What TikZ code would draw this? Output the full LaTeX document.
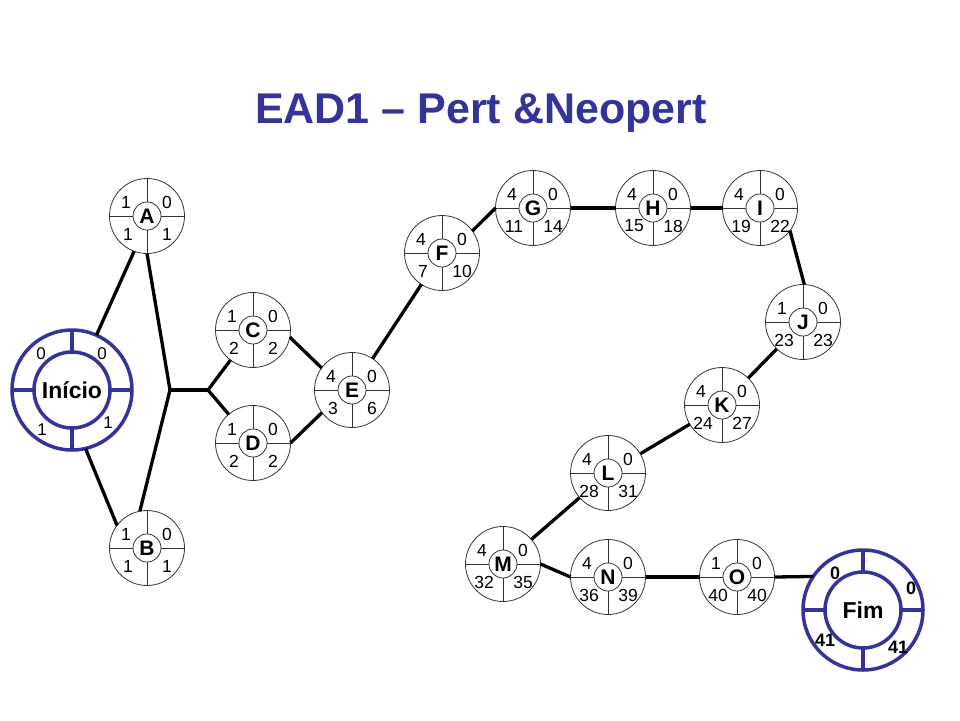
\documentclass[tikz,border=0pt]{standalone}
\usepackage{fontspec}
\setmainfont{Liberation Sans}
\definecolor{navy}{RGB}{51,51,153}
\tikzset{
  conn/.style={line width=3.3pt, black},
  pnode/.style={circle, draw=black!80, line width=0.8pt, minimum size=75pt, inner sep=0pt, outer sep=0pt, font=\bfseries\fontsize{21}{21}\selectfont},
  pin/.style={draw=black!80, line width=0.8pt},
  num/.style={inner sep=0pt, font=\fontsize{17.5}{17.5}\selectfont},
  bignode/.style={circle, draw=navy, line width=3.5pt, minimum size=120pt, inner sep=0pt, outer sep=0pt, font=\bfseries\fontsize{23}{23}\selectfont},
  bigin/.style={draw=navy, line width=3.5pt},
  bignum/.style={inner sep=0pt, font=\fontsize{17}{17}\selectfont},
  bignumb/.style={inner sep=0pt, font=\bfseries\fontsize{18}{18}\selectfont},
  titlestyle/.style={inner sep=0pt, anchor=base, text=navy, font=\bfseries\fontsize{43}{43}\selectfont},
}
\newcommand\pertnode[7]{%
  \node[pnode] (#1) at (#2) {#3};
  \draw[pin] (#1.center) circle[radius=14pt];
  \foreach \ang in {0,90,180,270} \draw[pin] (#1.center) ++(\ang:14pt) -- ++(\ang:23.5pt);
  \node[num] (#1-tl) at ([shift={(-21,-14)}]#1.center) {#4};
  \node[num] (#1-tr) at ([shift={(20,-14)}]#1.center) {#5};
  \node[num] (#1-bl) at ([shift={(-19,18)}]#1.center) {#6};
  \node[num] (#1-br) at ([shift={(20,18)}]#1.center) {#7};
}
\newcommand\ringnode[3]{%
  \node[bignode] (#1) at (#2) {#3};
  \draw[bigin] (#1.center) circle[radius=38pt];
  \foreach \ang in {0,90,180,270} \draw[bigin] (#1.center) ++(\ang:38pt) -- ++(\ang:22pt);
}
\begin{document}
\begin{tikzpicture}[x=1pt,y=-1pt]
\useasboundingbox[fill=white] (0,0) rectangle (960,720);

\node[titlestyle] (title) at (481,123) {EAD1 – Pert \&Neopert};

% ring nodes
\ringnode{ini}{72,390}{Início}
\node[bignum] (ini-tl) at ([shift={(-31,-36)}]ini.center) {0};
\node[bignum] (ini-tr) at ([shift={(30,-36)}]ini.center) {0};
\node[bignum] (ini-bl) at ([shift={(-30,40)}]ini.center) {1};
\node[bignum] (ini-br) at ([shift={(36,33)}]ini.center) {1};

\ringnode{fim}{863,610}{Fim}
\node[bignumb] (fim-tl) at ([shift={(-28,-37)}]fim.center) {0};
\node[bignumb] (fim-tr) at ([shift={(48,-22)}]fim.center) {0};
\node[bignumb] (fim-bl) at ([shift={(-38,30)}]fim.center) {41};
\node[bignumb] (fim-br) at ([shift={(35,37)}]fim.center) {41};

% activity nodes
\pertnode{A}{147,216}{A}{1}{0}{1}{1}
\pertnode{B}{147,548}{B}{1}{0}{1}{1}
\pertnode{C}{253,330}{C}{1}{0}{2}{2}
\pertnode{D}{253,443}{D}{1}{0}{2}{2}
\pertnode{E}{352,390}{E}{4}{0}{3}{6}
\pertnode{F}{442,253}{F}{4}{0}{7}{10}
\pertnode{G}{533,208}{G}{4}{0}{11}{14}
\pertnode{H}{653,208}{H}{4}{0}{15}{18}
\pertnode{I}{760,208}{I}{4}{0}{19}{22}
\pertnode{J}{803,322}{J}{1}{0}{23}{23}
\pertnode{K}{722,405}{K}{4}{0}{24}{27}
\pertnode{L}{608,473}{L}{4}{0}{28}{31}
\pertnode{M}{503,564}{M}{4}{0}{32}{35}
\pertnode{N}{608,577}{N}{4}{0}{36}{39}
\pertnode{O}{737,577}{O}{1}{0}{40}{40}

% junction points
\coordinate (j1) at (170,390);
\coordinate (j2) at (208,390);

% connectors
\draw[conn] (ini.66) -- (A.250);
\draw[conn] (ini.-77) -- (B.143);
\draw[conn] (A.south) -- (j1) -- (B.101);
\draw[conn] (j1) -- (j2);
\draw[conn] (j2) -- (C);
\draw[conn] (j2) -- (D);
\draw[conn] (C.-11) -- (E.144);
\draw[conn] (D.east) -- (E.217);
\draw[conn] (E) -- (F);
\draw[conn] (F.36) -- (G.west);
\draw[conn] (G.east) -- (H.west);
\draw[conn] (H.east) -- (I.west);
\draw[conn] (I.-37) -- (J.88);
\draw[conn] (J) -- (K);
\draw[conn] (K) -- (L);
\draw[conn] (L) -- (M);
\draw[conn] (M.east) -- (N.west);
\draw[conn] (N.east) -- (O.west);
\draw[conn] (O.east) -- (fim.146);
\end{tikzpicture}
\end{document}
